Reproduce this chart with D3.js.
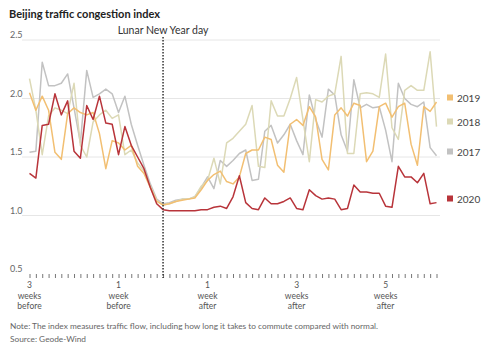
<!DOCTYPE html>
<html><head><meta charset="utf-8">
<script src="https://cdn.jsdelivr.net/npm/d3@7"></script>
<style>
html,body{margin:0;padding:0;background:#fff;}
svg{display:block;font-family:Lato,"Open Sans",sans-serif;}
</style></head>
<body><svg id="c" width="490" height="355"></svg>
<script>
const days = d3.range(-21, 44);
const s2020 = [1.36,1.32,1.77,1.78,2.04,1.86,1.98,1.55,1.49,1.94,1.82,2.02,1.79,1.78,1.52,1.76,1.60,1.50,1.40,1.24,1.10,
  1.05,1.04,1.04,1.04,1.04,1.04,1.05,1.05,1.07,1.08,1.06,1.16,1.34,1.11,1.06,1.05,1.15,1.10,1.10,1.12,1.15,1.06,1.05,
  1.22,1.17,1.14,1.15,1.14,1.05,1.06,1.26,1.20,1.20,1.19,1.19,1.08,1.07,1.42,1.33,1.33,1.28,1.36,1.10,1.11];
const s2019 = [2.05,1.90,2.02,1.90,1.54,1.48,1.87,1.92,1.88,1.86,1.88,1.70,1.40,1.64,1.62,1.56,1.60,1.42,1.36,1.24,1.12,
  1.09,1.10,1.12,1.13,1.14,1.15,1.22,1.30,1.35,1.38,1.29,1.27,1.33,1.53,1.56,1.56,1.67,1.65,1.43,1.37,1.78,1.82,1.77,
  1.93,1.84,1.48,1.39,1.86,1.92,1.85,1.96,1.94,1.46,1.55,1.93,1.96,1.84,1.93,1.96,1.61,1.43,1.93,1.89,1.97];
const s2018 = [2.17,1.90,1.52,1.85,1.92,1.90,1.87,2.13,1.60,1.50,1.80,1.86,1.90,1.83,1.86,1.52,1.56,1.45,1.38,1.25,1.13,
  1.09,1.10,1.12,1.14,1.14,1.16,1.25,1.30,1.49,1.27,1.62,1.66,1.72,1.78,1.94,1.42,1.41,1.98,1.85,1.85,2.00,2.18,1.82,
  1.46,1.99,1.97,2.02,2.04,2.36,1.53,1.53,2.04,2.05,2.04,2.01,2.38,1.75,1.65,2.07,2.11,2.07,2.07,2.40,1.76];
const s2017 = [1.54,1.55,2.31,2.11,2.11,2.13,2.21,1.92,1.62,2.24,2.01,2.04,2.08,2.04,1.88,2.02,1.78,1.60,1.43,1.27,1.14,
  1.10,1.11,1.13,1.14,1.14,1.16,1.24,1.33,1.23,1.47,1.42,1.47,1.53,1.56,1.30,1.31,1.72,1.77,1.62,1.69,1.78,1.64,1.52,
  2.03,1.82,1.67,2.08,2.03,1.69,1.55,2.16,1.92,1.95,1.92,1.93,1.73,1.46,2.13,2.00,1.95,1.93,1.97,1.58,1.51];
const seriesNames = ["2017","2018","2019","2020"];
const seriesColors = ["#c2c2c2","#dcd9b6","#f2bf72","#b8343a"];
const yTicks = [0.5,1.0,1.5,2.0,2.5];
const xTickDays = [-21,-7,7,21,35];
const xTickLabels = [["3","weeks","before"],["1","week","before"],["1","week","after"],["3","weeks","after"],["5","weeks","after"]];
const legendOrder = ["2019","2018","2017","2020"];

const svg = d3.select("#c");
const x = d3.scaleLinear().domain([-21,43]).range([29.5,436.5]);
const y = d3.scaleLinear().domain([0.5,2.5]).range([274,40]);

svg.append("text").attr("x",9).attr("y",18).attr("font-size",11).attr("font-weight",700)
  .attr("fill","#222").text("Beijing traffic congestion index");

// gridlines
svg.append("g").selectAll("line").data(yTicks.filter(v=>v>0.5)).join("line")
  .attr("x1",22).attr("x2",440).attr("y1",d=>y(d)).attr("y2",d=>y(d))
  .attr("stroke","#e6e6e6").attr("stroke-width",1);
svg.append("g").selectAll("text").data(yTicks).join("text")
  .attr("x",10).attr("y",d=>y(d)-2).attr("font-size",9).attr("fill","#666")
  .text(d=>d3.format(".1f")(d));

// x axis ticks
const xAxis = d3.axisBottom(x).tickValues(d3.range(-21,44)).tickSize(4).tickFormat("");
const gx = svg.append("g").attr("transform","translate(0,274)").call(xAxis);
gx.select(".domain").remove();
gx.selectAll("line").attr("stroke","#777");

const lab = svg.append("g").selectAll("text").data(xTickDays).join("text")
  .attr("text-anchor","middle").attr("font-size",8.5).attr("fill","#555")
  .attr("transform",d=>`translate(${x(d)},288)`);
lab.each(function(d,i){
  d3.select(this).selectAll("tspan").data(xTickLabels[i]).join("tspan")
    .attr("x",0).attr("dy",(t,j)=>j===0?0:10.5).text(t=>t);
});

// series lines
const allSeries = {"2017":s2017,"2018":s2018,"2019":s2019,"2020":s2020};
const line = d3.line().x((d,i)=>x(days[i])).y(d=>y(d));
seriesNames.forEach((n,k)=>{
  svg.append("path").datum(allSeries[n]).attr("d",line).attr("fill","none")
    .attr("stroke",seriesColors[k]).attr("stroke-width",1.5).attr("stroke-linejoin","round");
});

// LNY line
svg.append("line").attr("x1",x(0)).attr("x2",x(0)).attr("y1",37).attr("y2",278)
  .attr("stroke","#333").attr("stroke-width",1.5).attr("stroke-dasharray","1.5,1.5");
svg.append("text").attr("x",x(0)).attr("y",34).attr("text-anchor","middle").attr("font-size",10.5)
  .attr("fill","#333").text("Lunar New Year day");

// legend
const legendPos = {"2019":98,"2018":122,"2017":152,"2020":199};
const lg = svg.append("g").selectAll("g").data(legendOrder).join("g")
  .attr("transform",d=>`translate(447,${legendPos[d]})`);
lg.append("rect").attr("x",0).attr("y",-3.5).attr("width",6).attr("height",6)
  .attr("fill",d=>seriesColors[seriesNames.indexOf(d)]);
lg.append("text").attr("x",10).attr("y",3.5).attr("font-size",10).attr("fill","#444").text(d=>d);

// footnote
svg.append("text").attr("x",10).attr("y",329).attr("font-size",8.3).attr("fill","#666")
  .text("Note: The index measures traffic flow, including how long it takes to commute compared with normal.");
svg.append("text").attr("x",10).attr("y",342).attr("font-size",8.3).attr("fill","#666")
  .text("Source: Geode-Wind");
</script></body></html>
